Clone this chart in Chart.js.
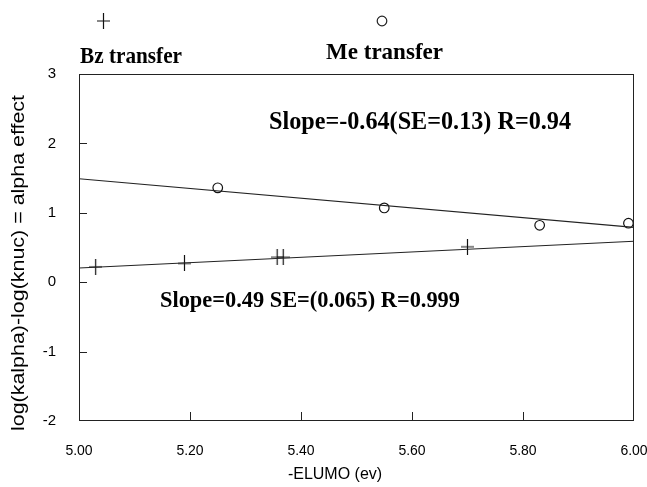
<!DOCTYPE html>
<html>
<head>
<meta charset="utf-8">
<script src="https://cdn.jsdelivr.net/npm/chart.js@4"></script>
<style>
  html, body { margin: 0; padding: 0; background: #fff; }
  #wrap { width: 647px; height: 487px; }
</style>
</head>
<body>
<div id="wrap"><canvas id="alphaChart" width="647" height="487"></canvas></div>
<script>
// values
const bzX = [5.03, 5.19, 5.357, 5.368, 5.70];
const bzY = [0.22, 0.27, 0.36, 0.36, 0.51];
const meX = [5.25, 5.55, 5.83, 5.99];
const meY = [1.36, 1.07, 0.82, 0.85];
const bzFitX = [5.0, 6.0];
const bzFitY = [0.205, 0.59];
const meFitX = [5.0, 6.0];
const meFitY = [1.49, 0.79];
const xTicks = [5.0, 5.2, 5.4, 5.6, 5.8, 6.0];
const yTicks = [-2, -1, 0, 1, 2, 3];

const toPoints = (xs, ys) => xs.map((x, i) => ({ x: x, y: ys[i] }));

// plus marker of the scan is a bit taller than wide
function makePlus(w, h) {
    const c = document.createElement('canvas');
    c.width = w;
    c.height = h;
    const g = c.getContext('2d');
    g.strokeStyle = '#111';
    g.lineWidth = 1.2;
    g.beginPath();
    g.moveTo(0, h / 2);
    g.lineTo(w, h / 2);
    g.moveTo(w / 2, 0);
    g.lineTo(w / 2, h);
    g.stroke();
    return c;
}
const plusMark = makePlus(13, 16);

// draws text squeezed to a given width (the scanned lettering is condensed)
function fitText(ctx, str, left, baseline, font, width) {
    ctx.save();
    ctx.font = font;
    ctx.textAlign = 'left';
    ctx.textBaseline = 'alphabetic';
    const w = ctx.measureText(str).width;
    ctx.translate(left, baseline);
    ctx.scale(width / w, 1);
    ctx.fillText(str, 0, 0);
    ctx.restore();
}

const decorations = {
    id: 'decorations',
    afterDraw(chart) {
        const ctx = chart.ctx;
        const area = chart.chartArea;
        const xs = chart.scales.x;
        const ys = chart.scales.y;
        ctx.save();
        ctx.strokeStyle = '#222';
        ctx.lineWidth = 1;

        // frame
        ctx.strokeRect(area.left + 0.5, area.top + 0.5, area.right - area.left - 1, area.bottom - area.top - 1);

        // inward tick marks
        ctx.beginPath();
        xTicks.slice(1, -1).forEach(v => {
            const px = Math.round(xs.getPixelForValue(v)) + 0.5;
            ctx.moveTo(px, area.bottom);
            ctx.lineTo(px, area.bottom - 9);
        });
        yTicks.slice(1, -1).forEach(v => {
            const py = Math.round(ys.getPixelForValue(v)) + 0.5;
            ctx.moveTo(area.left, py);
            ctx.lineTo(area.left + 8, py);
        });
        ctx.stroke();

        // legend markers
        ctx.drawImage(plusMark, 97, 13);
        ctx.lineWidth = 1.2;
        ctx.beginPath();
        ctx.arc(382, 21, 4.8, 0, Math.PI * 2);
        ctx.stroke();

        ctx.fillStyle = '#000';
        // legend labels
        fitText(ctx, 'Bz transfer', 80, 63, 'bold 23px "Liberation Serif"', 102);
        fitText(ctx, 'Me transfer', 326, 59, 'bold 24px "Liberation Serif"', 117);

        // regression annotations
        fitText(ctx, 'Slope=-0.64(SE=0.13) R=0.94', 269, 129, 'bold 25px "Liberation Serif"', 302);
        fitText(ctx, 'Slope=0.49 SE=(0.065) R=0.999', 160, 307, 'bold 24px "Liberation Serif"', 300);

        // axis titles
        ctx.save();
        ctx.translate(19, 263);
        ctx.rotate(-Math.PI / 2);
        ctx.font = '19px "Liberation Sans"';
        const yTitle = 'log(kalpha)-log(knuc) = alpha effect';
        const tw = ctx.measureText(yTitle).width;
        ctx.scale(336 / tw, 1);
        ctx.textAlign = 'center';
        ctx.textBaseline = 'middle';
        ctx.fillText(yTitle, 0, 0);
        ctx.restore();

        ctx.font = '16px "Liberation Sans"';
        ctx.textAlign = 'center';
        ctx.textBaseline = 'middle';
        ctx.fillText('-ELUMO (ev)', 335, 475);
        ctx.restore();
    }
};

new Chart(document.getElementById('alphaChart').getContext('2d'), {
    type: 'scatter',
    data: {
        datasets: [{
            label: 'Bz fit',
            data: toPoints(bzFitX, bzFitY),
            showLine: true,
            borderColor: '#222',
            borderWidth: 1.1,
            pointRadius: 0
        }, {
            label: 'Me fit',
            data: toPoints(meFitX, meFitY),
            showLine: true,
            borderColor: '#222',
            borderWidth: 1.1,
            pointRadius: 0
        }, {
            label: 'Bz transfer',
            data: toPoints(bzX, bzY),
            pointStyle: plusMark,
            pointRadius: 7,
            borderColor: '#111'
        }, {
            label: 'Me transfer',
            data: toPoints(meX, meY),
            pointStyle: 'circle',
            pointRadius: 4.8,
            backgroundColor: '#fff',
            borderColor: '#111',
            borderWidth: 1.2
        }]
    },
    options: {
        responsive: false,
        animation: false,
        devicePixelRatio: 1,
        layout: { padding: { top: 74, right: 13, left: 0, bottom: 0 } },
        plugins: { legend: { display: false }, tooltip: { enabled: false } },
        scales: {
            x: {
                type: 'linear',
                min: 5,
                max: 6,
                grid: { display: false },
                border: { display: false },
                afterBuildTicks: scale => { scale.ticks = xTicks.map(v => ({ value: v })); },
                afterFit: scale => { scale.height = 66; scale.paddingLeft = 0; scale.paddingRight = 0; },
                ticks: {
                    padding: 14,
                    color: '#000',
                    font: { family: 'Liberation Sans', size: 14 },
                    callback: v => Number(v).toFixed(2)
                }
            },
            y: {
                min: -2,
                max: 3,
                grid: { display: false },
                border: { display: false },
                afterBuildTicks: scale => { scale.ticks = yTicks.map(v => ({ value: v })); },
                afterFit: scale => { scale.width = 79; scale.paddingTop = 0; scale.paddingBottom = 0; },
                ticks: {
                    padding: 15,
                    color: '#000',
                    font: { family: 'Liberation Sans', size: 15 }
                }
            }
        }
    },
    plugins: [decorations]
});
</script>
</body>
</html>
